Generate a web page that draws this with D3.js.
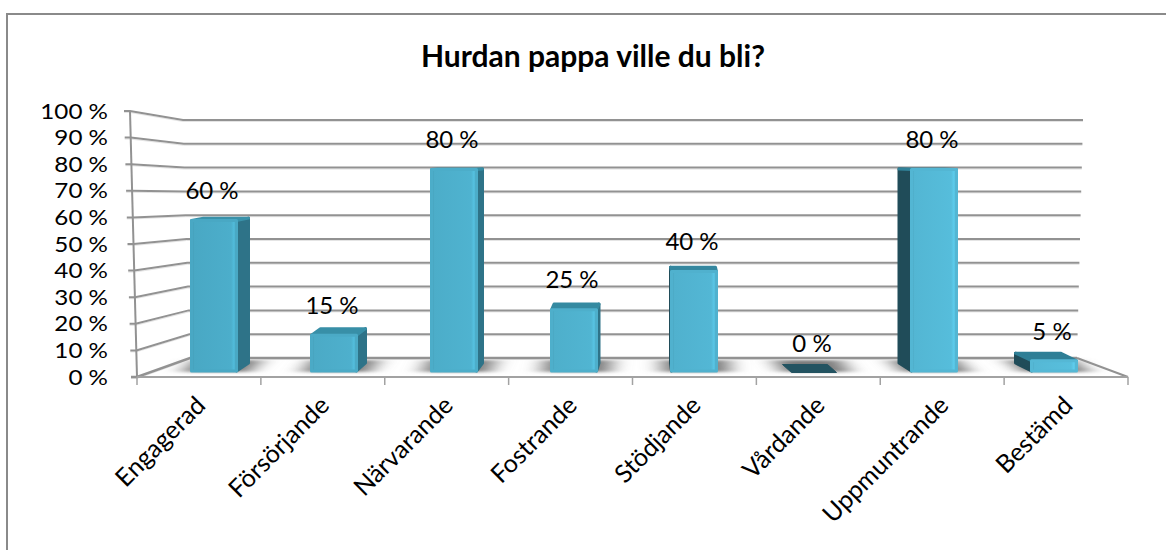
<!DOCTYPE html>
<html>
<head>
<meta charset="utf-8">
<script src="https://cdn.jsdelivr.net/npm/d3@7"></script>
<style>
  html, body { margin: 0; padding: 0; background: #fff; overflow: hidden; }
  text { font-family: Lato, "Open Sans", sans-serif; fill: #000; }
</style>
</head>
<body>
<div id="chart"></div>
<script>
const chartTitle = "Hurdan pappa ville du bli?"
const categories = ["Engagerad", "Försörjande", "Närvarande", "Fostrande", "Stödjande", "Vårdande", "Uppmuntrande", "Bestämd"]
const values = [60, 15, 80, 25, 40, 0, 80, 5]
const yTicks = [0, 10, 20, 30, 40, 50, 60, 70, 80, 90, 100]

const width = 1166, height = 550
const gridColor = "#929292"

const svg = d3.select("#chart").append("svg")
    .attr("width", width)
    .attr("height", height)

const defs = svg.append("defs")
defs.append("filter").attr("id", "floorShadow")
    .attr("x", "-50%").attr("width", "200%").attr("y", "-40%").attr("height", "180%")
    .append("feGaussianBlur").attr("stdDeviation", "10 1.5")

// chart frame, only left and top are inside the picture
svg.append("path")
    .attr("d", d3.line()([[7, height], [7, 14], [width, 14]]))
    .attr("fill", "none")
    .attr("stroke", "#8a8a8a")
    .attr("stroke-width", 2)

svg.append("text")
    .attr("x", 593)
    .attr("y", 67)
    .attr("text-anchor", "middle")
    .attr("font-size", 30)
    .attr("font-weight", 700)
    .text(chartTitle)

// the fake 3d box: front edge, back wall, and where the walls meet
const yFront = d3.scaleLinear().domain([0, 100]).range([377, 111])
const yWall = d3.scaleLinear().domain([0, 100]).range([358, 120])
const xFront = d3.scaleLinear().domain([0, 100]).range([137, 130])
const xWall = d3.scaleLinear().domain([0, 100]).range([190, 183])
const xWallEnd = d3.scaleLinear().domain([0, 100]).range([1077, 1083])

// bars stand in the middle of the box so they get their own scales
const xFloor = d3.scaleBand().domain(categories).range([137, 1128])
const xBar = d3.scaleBand().domain(categories).range([154, 1114]).paddingInner(0.6).paddingOuter(0.3)
const yBar = d3.scaleLinear().domain([0, 100]).range([372, 117])
const depthX = d3.scaleLinear().domain([0, 2, 4, 5, 7]).range([12, 6, -1, -9, -16])
const depthY = d3.scaleLinear().domain([0, 80]).range([8, 0.5])
const labelGap = d3.scaleLinear().domain([0, 80]).range([20, 28])
const frontColor = d3.scaleLinear().domain([0, categories.length - 1]).range(["#49a8c4", "#55b8d5"])
const topColor = d3.scaleLinear().domain([0, categories.length - 1]).range(["#3a92aa", "#2f7f96"])

const line = d3.line()

// shadows on the floor, under the gridlines
const floor = yBar(0)
svg.append("g").selectAll("path")
    .data(categories)
    .join("path")
    .attr("d", (c, i) => {
        const x0 = xBar(c) - 8, x1 = xBar(c) + xBar.bandwidth() + 12
        const dx = depthX(i)
        return line([[x0, floor], [x1, floor], [x1 + dx, floor - 12], [x0 + dx, floor - 12]]) + "Z"
    })
    .attr("fill", "#7c7c7c")
    .attr("filter", "url(#floorShadow)")

// gridlines
const grid = svg.append("g").attr("fill", "none")
yTicks.forEach(t => {
    const pts = [[xFront(t) - 6, yFront(t)], [xFront(t), yFront(t)], [xWall(t), yWall(t)], [xWallEnd(t), yWall(t)]]
    grid.append("path").attr("d", line(pts.map(p => [p[0], p[1] + 1.5]))).attr("stroke", "#e4e4e4").attr("stroke-width", 1)
    grid.append("path").attr("d", line(pts)).attr("stroke", gridColor).attr("stroke-width", t === 0 ? 2.5 : 2)
})
grid.append("path")
    .attr("d", line([[xFront(100), yFront(100)], [xFront(0), yFront(0)]]))
    .attr("stroke", gridColor).attr("stroke-width", 2)

// floor edges and ticks
grid.append("path")
    .attr("d", line([[xWallEnd(0), yWall(0)], [xFloor.range()[1], yFront(0)]]))
    .attr("stroke", gridColor).attr("stroke-width", 2)
grid.append("path")
    .attr("d", line([[xFront(0), yFront(0)], [xFloor.range()[1], yFront(0)]]))
    .attr("stroke", "#a2a2a2").attr("stroke-width", 2)
d3.range(categories.length + 1).forEach(i => {
    const x = xFloor.range()[0] + i * xFloor.step()
    grid.append("path")
        .attr("d", line([[x, yFront(0)], [x, yFront(0) + 8]]))
        .attr("stroke", "#a2a2a2").attr("stroke-width", 1.5)
})

// axes, only used for their labels here
// the y labels are stretched sideways because the rows are too tight for a bigger size
const yAxis = svg.append("g")
    .attr("transform", "translate(108,0)")
    .call(d3.axisLeft(yFront).tickValues(yTicks).tickFormat(d => d + " %").tickSize(0).tickPadding(0))
yAxis.select(".domain").remove()
yAxis.selectAll("text")
    .attr("font-size", 22)
    .attr("transform", "scale(1.1,1)")

const xAxis = svg.append("g")
    .attr("transform", "translate(0,407)")
    .call(d3.axisBottom(xFloor).tickSize(0).tickPadding(0))
xAxis.select(".domain").remove()
xAxis.selectAll("text")
    .attr("font-size", 25)
    .attr("text-anchor", "end")
    .attr("x", 8)
    .attr("y", 0)
    .attr("dy", 0)
    .attr("transform", "rotate(-45 8 0)")

// one gradient per bar for the bevel on the front face
categories.forEach((c, i) => {
    const base = d3.color(frontColor(i))
    const g = defs.append("linearGradient").attr("id", "front" + i)
    g.append("stop").attr("offset", "0").attr("stop-color", "#31798f")
    g.append("stop").attr("offset", "0.05").attr("stop-color", base)
    g.append("stop").attr("offset", "0.88").attr("stop-color", base.brighter(0.1))
    g.append("stop").attr("offset", "0.94").attr("stop-color", base.brighter(0.3))
    g.append("stop").attr("offset", "1").attr("stop-color", base)
})

// bars, faces are inset a bit and stroked thick so the corners come out round
const bars = svg.append("g")
categories.forEach((c, i) => {
    const v = values[i]
    const x0 = xBar(c) + 1.5, x1 = xBar(c) + xBar.bandwidth() - 1.5
    const top = yBar(v) + 1.5
    const bottom = floor - 1
    const dx = depthX(i), dy = depthY(v)
    const g = bars.append("g").attr("stroke-linejoin", "round").attr("stroke-width", 3)
    const sideX = dx > 0 ? x1 : x0
    const sideColor = dx > 0 ? "#2e7388" : "#204c59"
    const face = (pts, col) => g.append("path").attr("d", line(pts) + "Z").attr("fill", col).attr("stroke", col)
    if (v > 0) {
        face([[sideX, top], [sideX + dx, top - dy], [sideX + dx, bottom - depthY(0)], [sideX, bottom]], sideColor)
        face([[x0, top], [x0 + dx, top - dy], [x1 + dx, top - dy], [x1, top]], topColor(i))
        g.append("path")
            .attr("d", line([[x0, top], [x1, top], [x1, bottom], [x0, bottom]]) + "Z")
            .attr("fill", `url(#front${i})`)
            .attr("stroke", frontColor(i))
    } else {
        g.attr("stroke-width", 1)
        face([[x0, top - 1], [x0 + dx, top - 1 - dy], [x1 + dx, top - 1 - dy], [x1, top - 1]], "#235361")
    }
})

// value labels
svg.append("g").selectAll("text")
    .data(categories)
    .join("text")
    .attr("x", c => xBar(c) + xBar.bandwidth() / 2 - 2)
    .attr("y", (c, i) => yBar(values[i]) - depthY(values[i]) - labelGap(values[i]))
    .attr("dy", "0.35em")
    .attr("text-anchor", "middle")
    .attr("font-size", 24)
    .text((c, i) => values[i] + " %")
</script>
</body>
</html>
